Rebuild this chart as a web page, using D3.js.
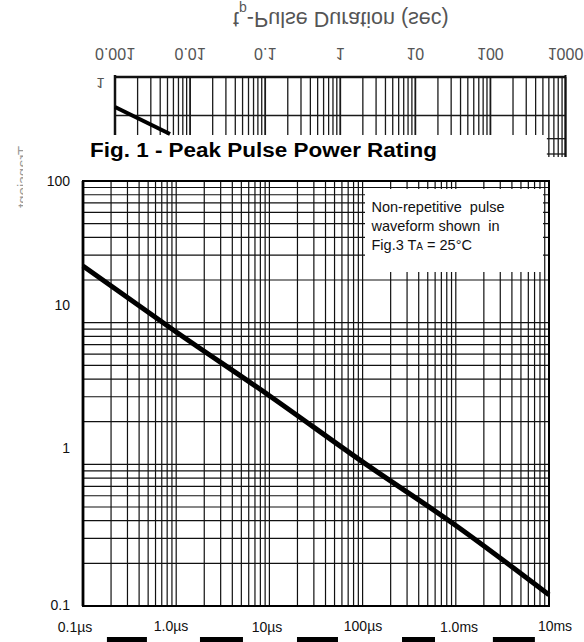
<!DOCTYPE html>
<html>
<head>
<meta charset="utf-8">
<script src="https://cdn.jsdelivr.net/npm/d3@7"></script>
<style>
  body{margin:0;background:#fff;}
  svg{display:block;font-family:"Liberation Sans",Arial,Helvetica,sans-serif;}
  .tick{font-size:14px;fill:#111;}
  .flip{fill:#555;}
</style>
</head>
<body>
<div id="chartdiv"></div>
<script>
//main chart data
var pulseTimes = [1e-7, 1e-6, 1e-5, 1e-4, 1e-3, 1e-2];   //tp in sec
var peakPower  = [25.1, 8.6, 3.05, 1.04, 0.37, 0.12];      //Ppk in kW
var xTickValues = [1e-7, 1e-6, 1e-5, 1e-4, 1e-3, 1e-2];
var xTickLabels = ["0.1µs", "1.0µs", "10µs", "100µs", "1.0ms", "10ms"];
var yTickValues = [100, 10, 1, 0.1];
var yTickLabels = ["100", "10", "1", "0.1"];
var noteLines = ["Non-repetitive\u00a0 pulse", "waveform shown\u00a0 in", "Fig.3 T"];

//upside-down strip from the page above
var stripTimes  = [0.001, 0.0054];
var stripValues = [6.0, 30.3];
var stripTickValues = [0.001, 0.01, 0.1, 1, 10, 100, 1000];
var stripTickLabels = ["0.001", "0.01", "0.1", "1", "10", "100", "1000"];
var stripLineValues = [10];       //full width horizontal lines
var stripTailValues = [40, 100];  //short lines at the right end

//tops of the blocks of the next figure, centred at these times
var blockTimes  = [2.96e-7, 3.06e-6, 3.28e-5, 3.98e-4, 4.2e-3];
var blockWidths = [40, 43, 41, 33, 42];

//label nudges (layout only)
var yLabelNudge = [0, -17.7, -16, -1];

(function(){
  var svg = d3.select("#chartdiv")
      .append("svg")
      .attr("width", 584)
      .attr("height", 642);

  //strip grid
  var sx = d3.scaleLog().domain([0.001, 1000]).range([115, 565.5]);
  var sy = d3.scaleLog().domain([1, 100]).range([77, 154]);
  var stripBottom = 135, tailBottom = 157;
  var vt = sx.ticks();
  var sg = svg.append("g").attr("id", "stripGrid");
  for (var i = 0; i < vt.length; i++){
    sg.append("line")
        .attr("x1", sx(vt[i])).attr("x2", sx(vt[i]))
        .attr("y1", sy(1)).attr("y2", vt[i] >= 600 ? tailBottom : stripBottom)
        .attr("stroke", "#1a1a1a")
        .attr("stroke-width", (i % 9 == 0) ? 1.8 : 1.3);
  };
  sg.append("line")
      .attr("x1", sx(0.001)).attr("x2", sx(1000))
      .attr("y1", sy(1)).attr("y2", sy(1))
      .attr("stroke", "#111").attr("stroke-width", 2.5);
  for (var j = 0; j < stripLineValues.length; j++){
    sg.append("line")
        .attr("x1", sx(0.001)).attr("x2", sx(1000))
        .attr("y1", sy(stripLineValues[j])).attr("y2", sy(stripLineValues[j]))
        .attr("stroke", "#1a1a1a").attr("stroke-width", 1.3);
  };
  for (var k = 0; k < stripTailValues.length; k++){
    sg.append("line")
        .attr("x1", sx(600) - 2).attr("x2", sx(1000))
        .attr("y1", sy(stripTailValues[k])).attr("y2", sy(stripTailValues[k]))
        .attr("stroke", "#1a1a1a").attr("stroke-width", 1.3);
  };
  sg.append("line")
      .attr("x1", sx(0.001)).attr("x2", sx(0.001))
      .attr("y1", sy(1) - 2).attr("y2", stripBottom)
      .attr("stroke", "#111").attr("stroke-width", 2.5);
  sg.append("line")
      .attr("x1", sx(1000)).attr("x2", sx(1000))
      .attr("y1", sy(1) - 2).attr("y2", tailBottom)
      .attr("stroke", "#111").attr("stroke-width", 2);

  var stripLine = d3.line()
      .x(function(p){ return sx(p[0]); })
      .y(function(p){ return sy(p[1]); });
  svg.append("path")
      .datum(d3.zip(stripTimes, stripValues))
      .attr("d", stripLine)
      .attr("fill", "none")
      .attr("stroke", "#000")
      .attr("stroke-width", 4);

  //flipped axis title and labels
  var title = svg.append("text")
      .attr("class", "flip")
      .attr("transform", "translate(233,12) scale(1,-1)")
      .style("font-size", "21.5px");
  title.append("tspan").text("t");
  title.append("tspan").attr("baseline-shift", "sub").style("font-size", "14px").text("p");
  title.append("tspan").text("-Pulse Duration (sec)");

  svg.selectAll(".stripLabel")
      .data(stripTickValues)
      .enter()
      .append("text")
      .attr("class", "flip stripLabel")
      .attr("text-anchor", "middle")
      .attr("transform", function(d){ return "translate(" + sx(d) + ",48) scale(1,-1)"; })
      .style("font-size", "16px")
      .text(function(d, i){ return stripTickLabels[i]; });

  svg.append("text")
      .attr("class", "flip")
      .attr("text-anchor", "middle")
      .attr("transform", "translate(100.5,78) scale(1,-1)")
      .style("font-size", "15px")
      .text("1");

  //main chart
  var left = 83, right = 549, top = 181, bottom = 606;
  var x = d3.scaleLog().domain([1e-7, 1e-2]).range([left, right]);
  var y = d3.scaleLog().domain([0.1, 100]).range([bottom, top]);

  svg.append("text")
      .attr("x", 90)
      .attr("y", 157)
      .attr("textLength", 347)
      .attr("lengthAdjust", "spacingAndGlyphs")
      .style("font-size", "19.5px")
      .style("font-weight", "bold")
      .style("fill", "#000")
      .text("Fig. 1 - Peak Pulse Power Rating");

  //cut off vertical label at far left
  var defs = svg.append("defs");
  defs.append("clipPath").attr("id", "leftClip")
      .append("rect").attr("x", 0).attr("y", 135).attr("width", 23).attr("height", 110);
  svg.append("g")
      .attr("clip-path", "url(#leftClip)")
      .append("text")
      .attr("transform", "translate(28,146) rotate(90) scale(1,-1)")
      .style("font-size", "15px")
      .style("fill", "#999")
      .text("Transient");

  //grid
  svg.selectAll(".gridV")
      .data(x.ticks())
      .enter()
      .append("line")
      .attr("class", "gridV")
      .attr("stroke", "#111")
      .attr("stroke-width", 1.2)
      .attr("x1", function(d){ return x(d); })
      .attr("x2", function(d){ return x(d); })
      .attr("y1", top)
      .attr("y2", bottom);

  svg.selectAll(".gridH")
      .data(y.ticks())
      .enter()
      .append("line")
      .attr("class", "gridH")
      .attr("stroke", "#111")
      .attr("stroke-width", 1.2)
      .attr("x1", left)
      .attr("x2", right)
      .attr("y1", function(d){ return y(d); })
      .attr("y2", function(d){ return y(d); });

  //note box over the grid
  svg.append("rect")
      .attr("x", 365)
      .attr("y", 189)
      .attr("width", 178)
      .attr("height", 83)
      .attr("fill", "#fff");

  var note = svg.append("g")
      .style("font-size", "14.5px")
      .style("fill", "#111");
  note.selectAll("text")
      .data(noteLines)
      .enter()
      .append("text")
      .attr("x", 371.5)
      .attr("y", function(d, i){ return 212.3 + i * 19; })
      .text(function(d){ return d; });
  var last = note.select("text:last-child");
  last.append("tspan").style("font-size", "10px").text("A");
  last.append("tspan").text(" = 25°C");

  //frame
  svg.append("rect")
      .attr("x", left)
      .attr("y", top)
      .attr("width", right - left)
      .attr("height", bottom - top)
      .attr("fill", "none")
      .attr("stroke", "#000")
      .attr("stroke-width", 2);
  svg.append("line")
      .attr("x1", left).attr("x2", left)
      .attr("y1", top).attr("y2", bottom)
      .attr("stroke", "#000")
      .attr("stroke-width", 2.8);

  //power curve
  var line = d3.line()
      .x(function(d){ return x(d[0]); })
      .y(function(d){ return y(d[1]); })
      .curve(d3.curveMonotoneX);
  svg.append("path")
      .datum(d3.zip(pulseTimes, peakPower))
      .attr("d", line)
      .attr("fill", "none")
      .attr("stroke", "#000")
      .attr("stroke-width", 5);

  //y labels
  svg.selectAll(".yLabel")
      .data(yTickValues)
      .enter()
      .append("text")
      .attr("class", "tick yLabel")
      .attr("text-anchor", "end")
      .attr("dominant-baseline", "central")
      .attr("x", 70)
      .attr("y", function(d, i){ return y(d) + yLabelNudge[i]; })
      .text(function(d, i){ return yTickLabels[i]; });

  //x labels
  svg.selectAll(".xLabel")
      .data(xTickValues)
      .enter()
      .append("text")
      .attr("class", "tick xLabel")
      .attr("text-anchor", "middle")
      .attr("x", function(d, i){ return x(d) - 8 + i * 2.8; })
      .attr("y", function(d, i){ return i % 2 ? 630.5 : 632; })
      .text(function(d, i){ return xTickLabels[i]; });

  //blocks from the next figure
  svg.selectAll(".block")
      .data(blockTimes)
      .enter()
      .append("rect")
      .attr("class", "block")
      .attr("x", function(d, i){ return x(d) - blockWidths[i] / 2; })
      .attr("y", 637)
      .attr("width", function(d, i){ return blockWidths[i]; })
      .attr("height", 6)
      .attr("fill", "#000");
})();
</script>
</body>
</html>
